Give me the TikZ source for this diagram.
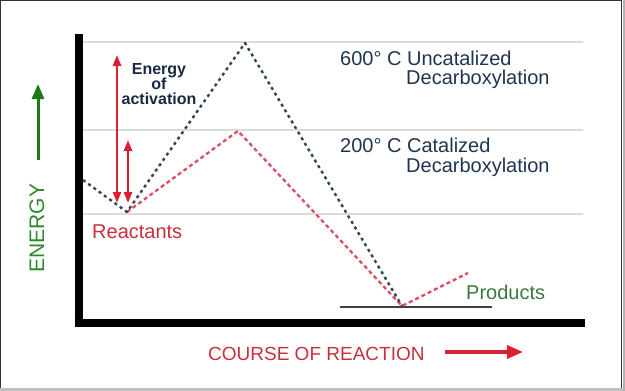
\documentclass[tikz,border=0pt]{standalone}
\usepackage{fontspec}
\setmainfont{Liberation Sans}
\usetikzlibrary{arrows.meta}
\definecolor{navy}{HTML}{1F3550}
\definecolor{darkdot}{HTML}{34475A}
\definecolor{reddot}{HTML}{D9505E}
\definecolor{redtext}{HTML}{C8303C}
\definecolor{redarrow}{HTML}{D82030}
\definecolor{gtext}{HTML}{2A8A2A}
\definecolor{garrow}{HTML}{1A7A1A}
\definecolor{ptext}{HTML}{3A7A3A}
\definecolor{grid}{HTML}{DCDCDC}
\tikzset{
  gridline/.style={grid, line width=1.5pt},
  axisline/.style={black, line width=8pt},
  darkpath/.style={darkdot, line width=2.4pt, dash pattern=on 3pt off 3.5pt, line join=round},
  redpath/.style={reddot, line width=2.3pt, dash pattern=on 4pt off 3pt, line join=round},
  actarrow/.style={redarrow, line width=2.4pt, {Triangle[length=11pt,width=8pt]}-{Triangle[length=11pt,width=8pt]}},
  lbl/.style={inner sep=0pt, font=\fontsize{20pt}{20pt}\selectfont},
}
\begin{document}
\begin{tikzpicture}[x=1pt,y=-1pt]
\useasboundingbox (0,0) rectangle (625,391);
% frame
\fill[white] (0,0) rectangle (625,391);
\fill[black!25] (0,388) rectangle (625,391);
\fill[black!30] (623,0) rectangle (625,391);
\draw[black!80, line width=1.5pt] (621.5,0) -- (621.5,388);
\draw[black!80, line width=1.2pt] (0.6,0) -- (0.6,388);
\draw[black!80, line width=1pt] (0,0.5) -- (622,0.5);
% grid lines
\coordinate (g1a) at (83,42);  \coordinate (g1b) at (583,42);
\coordinate (g2a) at (83,130); \coordinate (g2b) at (583,130);
\coordinate (g3a) at (83,214); \coordinate (g3b) at (583,214);
\draw[gridline] (g1a) -- (g1b);
\draw[gridline] (g2a) -- (g2b);
\draw[gridline] (g3a) -- (g3b);
% axes
\coordinate (ytop) at (78.5,34);
\coordinate (orig) at (78.5,322.5);
\coordinate (xend) at (585,322.5);
\draw[axisline] (ytop) -- ([yshift=4pt]orig);
\draw[axisline] ([xshift=-4pt]orig) -- (xend);
% products base line
\coordinate (pa) at (340,307); \coordinate (pb) at (492,307);
\draw[black!75, line width=1.2pt] (pa) -- (pb);
% reaction paths
\coordinate (start) at (83,180);
\coordinate (dip) at (127,212);
\coordinate (peakU) at (245,43);
\coordinate (peakC) at (238,131);
\coordinate (prod) at (402,306);
\coordinate (pend) at (468,273);
\draw[redpath] (dip) -- (peakC) -- (prod) -- (pend);
\draw[darkpath] (start) -- (dip) -- (peakU) -- (prod);
% activation arrows
\coordinate (a1t) at (117,55);  \coordinate (a1b) at (117,203);
\coordinate (a2t) at (128,140); \coordinate (a2b) at (128,203);
\draw[actarrow] (a1b) -- (a1t);
\draw[actarrow] (a2b) -- (a2t);
% labels
\node[inner sep=0pt, anchor=base, align=center, text=navy!80!black,
  font=\fontsize{16pt}{15pt}\selectfont\bfseries] (act) at (159,104) {Energy\\of\\activation};
\node[lbl, anchor=base west, text=navy] (u1) at (340,65) {600° C Uncatalized};
\node[lbl, anchor=base west, text=navy] (u2) at (406,84) {Decarboxylation};
\node[lbl, anchor=base west, text=navy] (c1) at (340,152) {200° C Catalized};
\node[lbl, anchor=base west, text=navy] (c2) at (406,172) {Decarboxylation};
\node[lbl, anchor=base west, text=redtext] (react) at (92,238) {Reactants};
\node[lbl, anchor=base west, text=ptext] (prodl) at (466,299) {Products};
\node[inner sep=0pt, rotate=90, text=gtext, font=\fontsize{21pt}{21pt}\selectfont] (energy) at (37,228) {ENERGY};
\node[inner sep=0pt, anchor=base west, text=redtext, font=\fontsize{19pt}{19pt}\selectfont] (course) at (208,360) {COURSE OF REACTION};
% axis arrows
\coordinate (ga) at (38,160); \coordinate (gb) at (38,84);
\draw[garrow, line width=3pt, -{Triangle[length=15pt,width=12pt]}] (ga) -- (gb);
\coordinate (ra) at (445,352); \coordinate (rb) at (523,352);
\draw[redarrow, line width=3.5pt, -{Triangle[length=16pt,width=13pt]}] (ra) -- (rb);
\end{tikzpicture}
\end{document}
